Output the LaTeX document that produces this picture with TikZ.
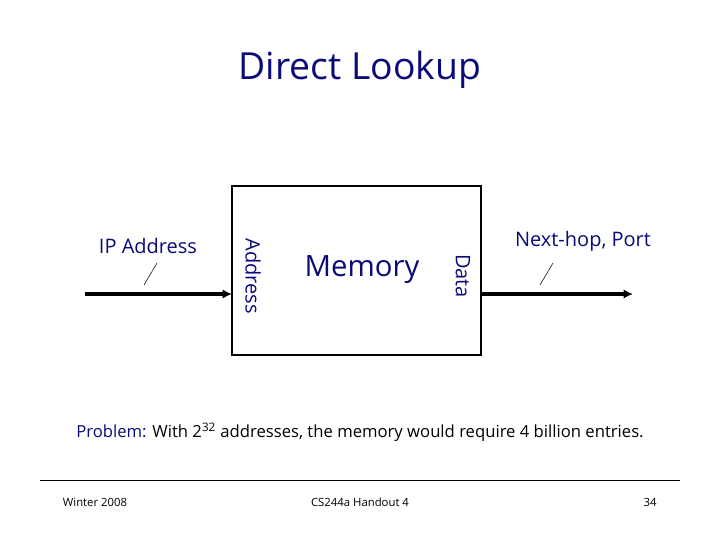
\documentclass[tikz,border=0pt]{standalone}
\usepackage{fontspec}
\setmainfont{Open Sans}
\usetikzlibrary{arrows.meta}
\definecolor{navy}{RGB}{10,10,120}
\tikzset{lbl/.style={text=navy,inner sep=0pt},
  wire/.style={line width=2.5pt,-{Latex[length=7pt,width=7pt]}},
  slash/.style={thin}}
\begin{document}
\begin{tikzpicture}[x=0.75pt,y=-0.75pt]
\useasboundingbox (0,0) rectangle (720,540);
\node[lbl,font=\fontsize{28}{32}\selectfont] (title) at (360,70) {Direct Lookup};
\draw[line width=2pt] (232,186) rectangle (481,355);
\node[lbl,font=\fontsize{22}{26}\selectfont] (mem) at (362,270) {Memory};
\node[lbl,rotate=-90,font=\fontsize{15}{18}\selectfont] (addr) at (253,276) {Address};
\node[lbl,rotate=-90,font=\fontsize{15}{18}\selectfont] (data) at (463,276) {Data};
\node[lbl,font=\fontsize{15}{18}\selectfont] (ip) at (148,246) {IP Address};
\node[lbl,font=\fontsize{15}{18}\selectfont] (nh) at (583,241) {Next-hop, Port};
\coordinate (inL) at (85,294);
\coordinate (inR) at (232,294);
\coordinate (outL) at (481,294);
\coordinate (outR) at (633,294);
\draw[wire] (inL) -- (inR);
\draw[wire] (outL) -- (outR);
\draw[slash] (144,285) -- (157,263);
\draw[slash] (540,285) -- (553,263);
\node[lbl,font=\fontsize{12.5}{15}\selectfont] (prob) at (360,432) {Problem: \textcolor{black}{With 2\textsuperscript{32} addresses, the memory would require 4 billion entries.}};
\draw[thin] (40,480) -- (680,480);
\node[lbl,text=black,font=\fontsize{8.5}{10}\selectfont] (f1) at (95,502) {Winter 2008};
\node[lbl,text=black,font=\fontsize{8.5}{10}\selectfont] (f2) at (360,502) {CS244a Handout 4};
\node[lbl,text=black,font=\fontsize{8.5}{10}\selectfont] (f3) at (650,502) {34};
\end{tikzpicture}
\end{document}
